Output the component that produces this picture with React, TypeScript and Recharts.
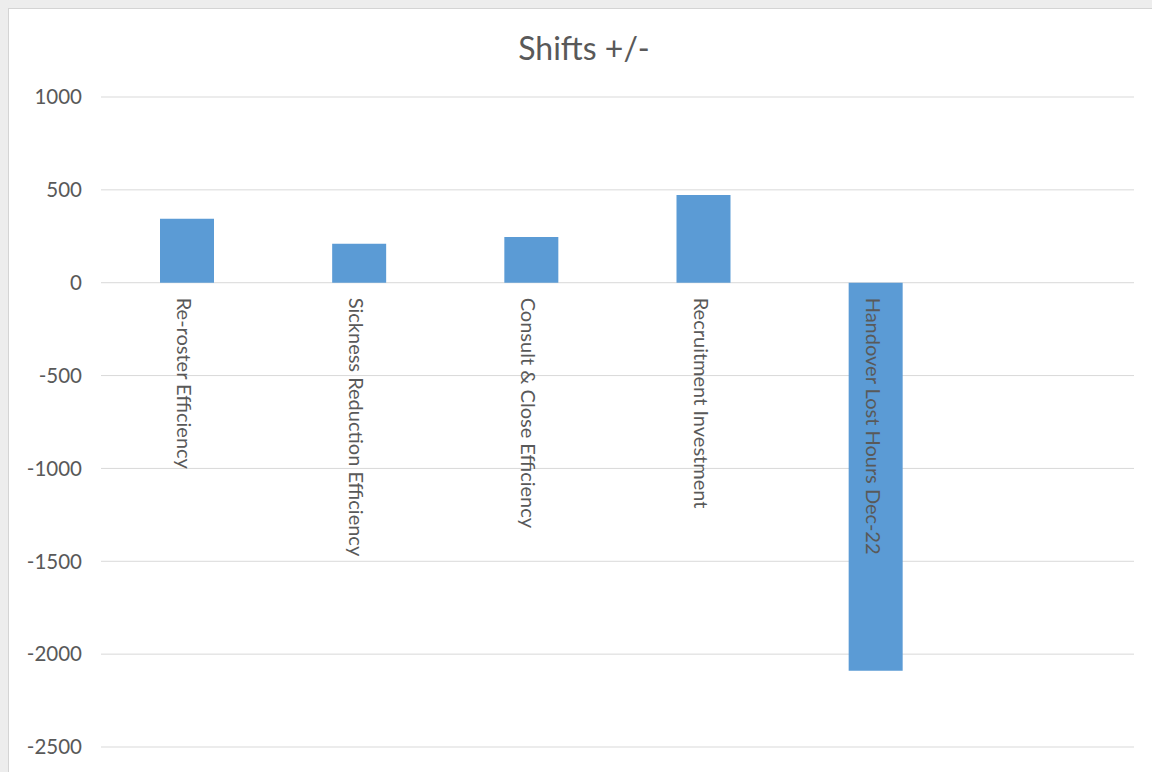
import React from "react";
import { BarChart, Bar, XAxis, YAxis, CartesianGrid, LabelList } from "recharts";

const categories = [
  "Re-roster Efficiency",
  "Sickness Reduction Efficiency",
  "Consult & Close Efficiency",
  "Recruitment Investment",
  "Handover Lost Hours Dec-22",
  "",
];
const shiftValues = [345, 210, 246, 472, -2090, null];
const yTicks = [-2500, -2000, -1500, -1000, -500, 0, 500, 1000];

const data = categories.map((c, i) => ({ name: c, value: shiftValues[i] }));

const FONT = "Lato, 'Open Sans', sans-serif";
const GRAY = "#595959";

const CategoryLabel = (props: any) => {
  const { x, y, width, height, index } = props;
  const v = shiftValues[index];
  if (v === null || v === undefined) return null;
  const name = categories[index];
  const y0 = Number(y);
  const y1 = Number(y) + Number(height);
  const zeroY = v >= 0 ? Math.max(y0, y1) : Math.min(y0, y1);
  const cx = Number(x) + Number(width) / 2 - 2;
  const ty = zeroY + 15;
  return (
    <text
      x={cx}
      y={ty}
      transform={`rotate(90, ${cx}, ${ty})`}
      textAnchor="start"
      dominantBaseline="central"
      fill={GRAY}
      fontSize={20}
      fontFamily={FONT}
    >
      {name}
    </text>
  );
};

export default function App() {
  return (
    <div style={{ position: "absolute", left: 0, top: 0, width: 1152, height: 772, background: "#ededed", overflow: "hidden" }}>
      <div
        style={{
          position: "absolute",
          left: 8,
          top: 8,
          width: 1200,
          height: 800,
          background: "#ffffff",
          border: "1px solid #d4d4d4",
        }}
      />
      <div style={{ position: "absolute", left: 0, top: 0 }}>
        <BarChart
          width={1152}
          height={772}
          data={data}
          margin={{ top: 97, right: 18, bottom: 25, left: 1 }}
        >
          <text
            x={584}
            y={47}
            textAnchor="middle"
            dominantBaseline="central"
            fill={GRAY}
            fontSize={32}
            fontFamily={FONT}
          >
            Shifts +/-
          </text>
          <CartesianGrid vertical={false} stroke="#d9d9d9" strokeWidth={1} />
          <XAxis dataKey="name" hide />
          <YAxis
            width={100}
            domain={[-2500, 1000]}
            ticks={yTicks}
            tickSize={0}
            tickMargin={19}
            axisLine={false}
            tickLine={false}
            tick={{ fill: GRAY, fontSize: 20.5, fontFamily: FONT }}
          />
          <Bar dataKey="value" fill="#5b9bd5" barSize={54} isAnimationActive={false}>
            <LabelList dataKey="value" content={<CategoryLabel />} />
          </Bar>
        </BarChart>
      </div>
    </div>
  );
}
